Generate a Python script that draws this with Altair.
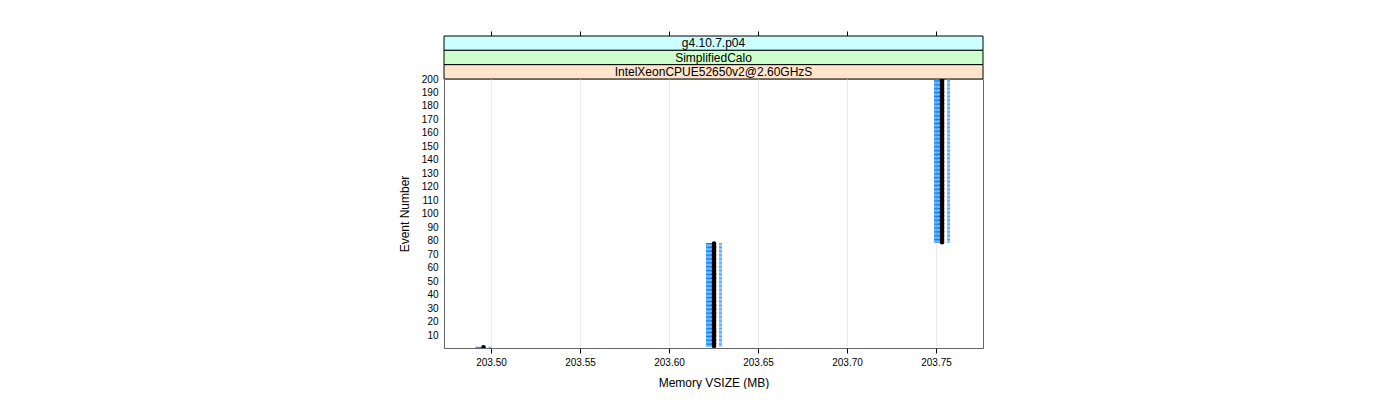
import altair as alt
import pandas as pd

# ---- data ----
mem_values = [203.4958, 203.6253, 203.7534]   # Memory VSIZE (MB) of each run of events
first_event = [1, 2, 79]
last_event = [1, 78, 200]
strip_labels = ["g4.10.7.p04", "SimplifiedCalo", "IntelXeonCPUE52650v2@2.60GHzS"]
strip_colors = ["#ccffff", "#ccffcc", "#ffe5cc"]
x_ticks = [203.50, 203.55, 203.60, 203.65, 203.70, 203.75]
y_ticks = list(range(10, 201, 10))

rows = []
for m, a, b in zip(mem_values, first_event, last_event):
    for e in range(a, b + 1):
        rows.append({"event": e, "mem": m})
df = pd.DataFrame(rows)

X_DOMAIN = [203.4736, 203.7764]
W, H, SH = 539, 269, 43
FONT = "Liberation Sans"

xscale = alt.Scale(domain=X_DOMAIN, nice=False, zero=False)
yscale = alt.Scale(domain=[0.5, 200], nice=False, zero=False)

x_axis = alt.Axis(values=x_ticks, format=".2f", tickSize=5, tickColor="black",
                  domain=False, grid=True, gridColor="#ebebeb", labelPadding=4,
                  title="Memory VSIZE (MB)", titlePadding=10)
y_axis = alt.Axis(values=y_ticks, ticks=False, tickSize=0, domain=False, grid=False,
                  labelPadding=6, title="Event Number", titlePadding=10)

base = alt.Chart(df)

blue_dark = base.transform_calculate(
    xa="datum.mem - 0.0045", xb="datum.mem + 0.0011"
).mark_rule(color="#0080ff", strokeWidth=1, clip=True).encode(
    x=alt.X("xa:Q", scale=xscale, axis=x_axis), x2="xb:Q",
    y=alt.Y("event:Q", scale=yscale, axis=y_axis))

blue_light = base.transform_calculate(
    xa="datum.mem + 0.0028", xb="datum.mem + 0.0045"
).mark_rule(color="#4da6ff", strokeWidth=1, clip=True).encode(
    x=alt.X("xa:Q", scale=xscale, axis=x_axis), x2="xb:Q",
    y=alt.Y("event:Q", scale=yscale, axis=y_axis))

black_pts = base.mark_circle(color="black", size=20, opacity=1, clip=True).encode(
    x=alt.X("mem:Q", scale=xscale, axis=x_axis),
    y=alt.Y("event:Q", scale=yscale, axis=y_axis))

main = alt.layer(blue_dark, blue_light, black_pts).properties(
    width=W, height=H, view=alt.ViewBackground(stroke="#666666", strokeWidth=1))

strip_df = pd.DataFrame({"label": strip_labels, "color": strip_colors})
strip_y = alt.Y("label:N", sort=strip_labels,
                scale=alt.Scale(paddingInner=0, paddingOuter=0), axis=None)
strip_rect = alt.Chart(strip_df).mark_rect(stroke="black", strokeWidth=1).encode(
    x=alt.value(0), x2=alt.value(W), y=strip_y,
    color=alt.Color("color:N", scale=None))
strip_text = alt.Chart(strip_df).mark_text(fontSize=12, font=FONT, color="black",
                                           baseline="middle").encode(
    x=alt.value(W / 2), y=strip_y, text="label:N")
top_axis = alt.Chart(df).mark_point(opacity=0).encode(
    x=alt.X("mem:Q", scale=xscale,
            axis=alt.Axis(orient="top", values=x_ticks, labels=False, tickSize=5,
                          tickColor="black", domain=False, grid=False, title=None)),
    y=alt.value(0))
strips = alt.layer(strip_rect, strip_text, top_axis).properties(
    width=W, height=SH, view=alt.ViewBackground(stroke=None))

chart = alt.vconcat(strips, main, spacing=0, bounds="flush").properties(
    padding={"left": 397, "top": 30, "right": 0, "bottom": 0}
).configure_axis(
    labelFont=FONT, labelFontSize=10, labelColor="black",
    titleFont=FONT, titleFontSize=12, titleColor="black", titleFontWeight="normal"
).configure_view(stroke=None)

chart.save("out.html", embed_options={"renderer": "svg", "actions": False})
